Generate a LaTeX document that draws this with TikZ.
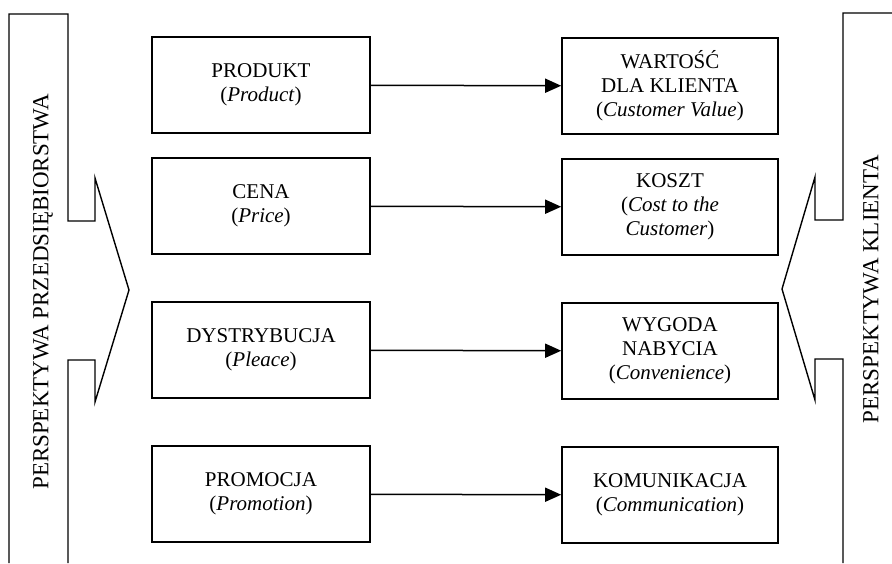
\documentclass[tikz,border=0pt]{standalone}
\usepackage{fontspec}
\setmainfont{Liberation Serif}
\usetikzlibrary{arrows.meta,positioning}
\definecolor{ink}{HTML}{000000}

\begin{document}
\begin{tikzpicture}[x=1pt,y=-1pt,
    font=\fontsize{21}{24}\selectfont,
    mixbox/.style={draw=ink,line width=1.6pt,minimum width=218pt,minimum height=96pt,
                   inner sep=2pt,align=center},
    flow/.style={draw=ink,line width=1.5pt,-{Triangle[length=16pt,width=14pt]}},
    frame/.style={draw=ink,line width=1.4pt,line join=miter},
    side/.style={rotate=90,font=\fontsize{23}{26}\selectfont}]
  \useasboundingbox (0,0) rectangle (892,563);

  % strona przedsiebiorstwa
  \node[mixbox] (prod)  at (261,85)  {PRODUKT\\(\textit{Product})};
  \node[mixbox] (cena)  at (261,206) {CENA\\(\textit{Price})};
  \node[mixbox] (dystr) at (261,350) {DYSTRYBUCJA\\(\textit{Pleace})};
  \node[mixbox] (promo) at (261,494) {PROMOCJA\\(\textit{Promotion})};

  % strona klienta
  \node[mixbox,minimum width=216pt] (wart)  at (670,86)  {WARTOŚĆ\\DLA KLIENTA\\(\textit{Customer Value})};
  \node[mixbox,minimum width=216pt] (koszt) at (670,207) {KOSZT\\(\textit{Cost to the}\\\textit{Customer})};
  \node[mixbox,minimum width=216pt] (wygo)  at (670,351) {WYGODA\\NABYCIA\\(\textit{Convenience})};
  \node[mixbox,minimum width=216pt] (komu)  at (670,495) {KOMUNIKACJA\\(\textit{Communication})};

  \draw[flow] (prod)  -- (wart);
  \draw[flow] (cena)  -- (koszt);
  \draw[flow] (dystr) -- (wygo);
  \draw[flow] (promo) -- (komu);

  % bloki perspektyw
  \draw[frame] (9,563) -- (9,14) -- (68,14) -- (68,221) -- (95,221) -- (95,178)
    -- (129,290) -- (95,402) -- (95,360) -- (68,360) -- (68,563);
  \draw[frame] (892,13) -- (843,13) -- (843,220) -- (815,220) -- (815,177)
    -- (782,289) -- (815,400) -- (815,359) -- (843,359) -- (843,563);

  \node[side] (lewa)  at (43,292)  {PERSPEKTYWA PRZEDSIĘBIORSTWA};
  \node[side] (prawa) at (871,289) {PERSPEKTYWA KLIENTA};
\end{tikzpicture}
\end{document}
